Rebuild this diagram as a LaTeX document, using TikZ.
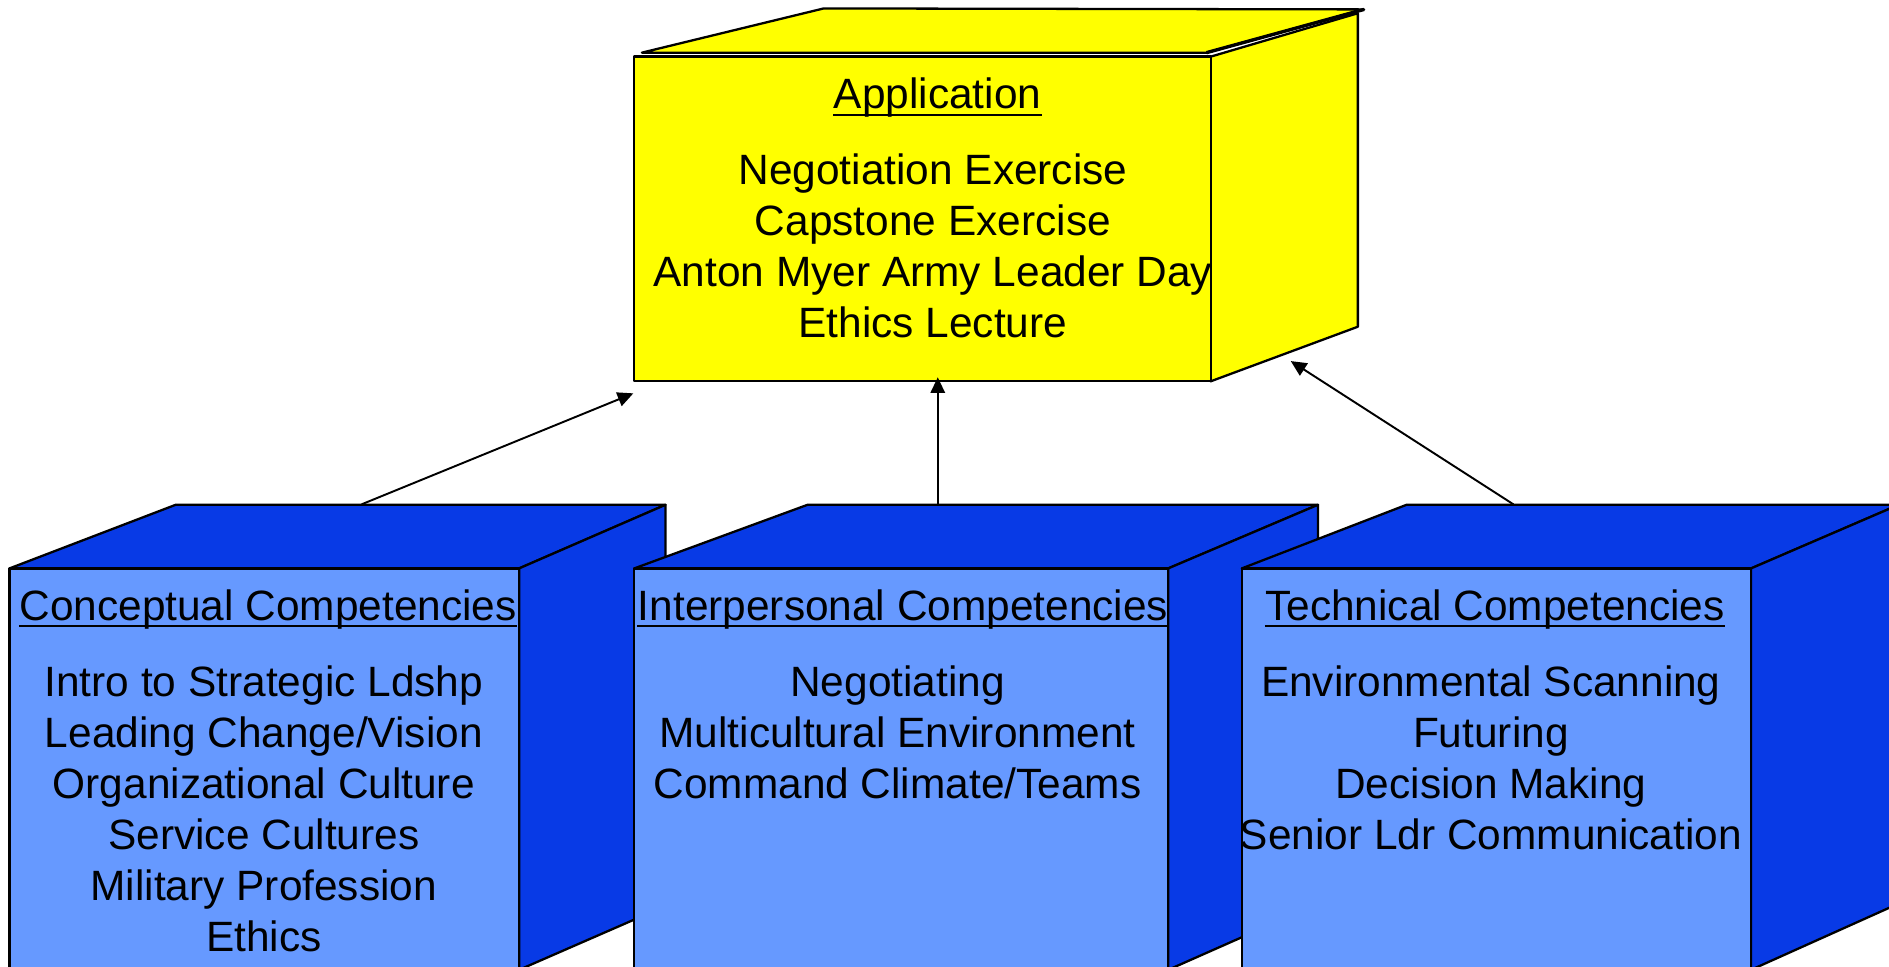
\documentclass[tikz,border=0pt]{standalone}
\usepackage{fontspec}
\setmainfont{Liberation Sans}
\usetikzlibrary{arrows.meta}

\definecolor{appyellow}{RGB}{255,255,0}
\definecolor{cubeside}{RGB}{8,58,230}
\definecolor{cubefront}{RGB}{102,153,255}

\tikzset{
  boxface/.style={draw=black, line width=0.95pt, line join=round},
  boxside/.style={boxface, fill=cubeside},
  boxfront/.style={boxface, fill=cubefront},
  appface/.style={boxface, fill=appyellow},
  itemtext/.style={inner sep=0pt, anchor=base, font=\fontsize{17.6}{21}\selectfont},
  headtext/.style={itemtext},
  ulinestyle/.style={line width=1.15pt},
  linkarrow/.style={line width=0.8pt, -{Triangle[length=6.5pt,width=6pt]}},
}

\begin{document}
\begin{tikzpicture}[x=0.5pt,y=-0.5pt]
\useasboundingbox (0,0) rectangle (1568,801.85);

% ---------- Conceptual cube ----------
\path[boxside] (7.9,471.8) -- (145.8,419) -- (552.4,419) -- (430.9,471.8) -- cycle;
\path[boxside] (430.9,471.8) -- (552.4,419) -- (552.4,752) -- (430.9,805) -- cycle;
\path[boxfront] (7.9,471.8) rectangle (430.9,805);

% ---------- Interpersonal cube ----------
\path[boxside] (526.5,471.8) -- (670.3,419) -- (1094,419) -- (969.7,471.8) -- cycle;
\path[boxside] (969.7,471.8) -- (1094,419) -- (1094,750) -- (969.7,805) -- cycle;
\path[boxfront] (526.5,471.8) rectangle (969.7,805);

% ---------- Technical cube ----------
\path[boxside] (1030.8,471.8) -- (1167.5,419) -- (1576,419) -- (1453.5,471.8) -- cycle;
\path[boxside] (1453.5,471.8) -- (1576,419) -- (1576,750) -- (1453.5,805) -- cycle;
\path[boxfront] (1030.8,471.8) rectangle (1453.5,805);

% ---------- Application cube ----------
\path[appface] (532.8,43.7) -- (683.7,7) -- (1132.3,7.8) -- (1001.5,43.7) -- cycle;
\path[appface] (1005,47) -- (1127.1,11) -- (1127.1,271.2) -- (1005,316.5) -- cycle;
\draw[line width=1.4pt] (1001.5,43.7) -- (1132.3,7.8);
\path[appface] (526,47) rectangle (1005,316.5);

% ---------- Texts ----------
\node[headtext] (apphead) at (778.2,90) {Application};
\draw[ulinestyle] ([yshift=-2.75pt]apphead.base west) -- ([yshift=-2.75pt]apphead.base east);
\foreach \t [count=\i] in {Negotiation Exercise, Capstone Exercise, Anton Myer Army Leader Day, Ethics Lecture}
  \node[itemtext] (app-\i) at (774.4,{153+42.3*(\i-1)}) {\t};

\node[headtext] (conhead) at (222.6,514.7) {Conceptual Competencies};
\draw[ulinestyle] ([yshift=-2.5pt]conhead.base west) -- ([yshift=-2.5pt]conhead.base east);
\foreach \t [count=\i] in {Intro to Strategic Ldshp, Leading Change/Vision, Organizational Culture, Service Cultures, Military Profession, Ethics}
  \node[itemtext] (con-\i) at (219,{578.3+42.3*(\i-1)}) {\t};

\node[headtext] (inthead) at (749.6,514.7) {Interpersonal Competencies};
\draw[ulinestyle] ([yshift=-2.5pt]inthead.base west) -- ([yshift=-2.5pt]inthead.base east);
\foreach \t [count=\i] in {Negotiating, Multicultural Environment, Command Climate/Teams}
  \node[itemtext] (int-\i) at (745,{578.3+42.3*(\i-1)}) {\t};

\node[headtext] (techead) at (1241,514.7) {Technical Competencies};
\draw[ulinestyle] ([yshift=-2.5pt]techead.base west) -- ([yshift=-2.5pt]techead.base east);
\foreach \t [count=\i] in {Environmental Scanning, Futuring, Decision Making, Senior Ldr Communication}
  \node[itemtext] (tec-\i) at (1237.5,{578.3+42.3*(\i-1)}) {\t};

% ---------- Connectors ----------
\coordinate (conout) at (300.2,418.6);
\coordinate (intout) at (778.4,418.6);
\coordinate (tecout) at (1256.2,418.6);
\coordinate (appinA) at (525.7,326.5);
\coordinate (appinB) at (778.4,313.2);
\coordinate (appinC) at (1071.4,299.7);

\draw[linkarrow] (conout) -- (appinA);
\draw[linkarrow] (intout) -- (appinB);
\draw[linkarrow] (tecout) -- (appinC);
\end{tikzpicture}
\end{document}
